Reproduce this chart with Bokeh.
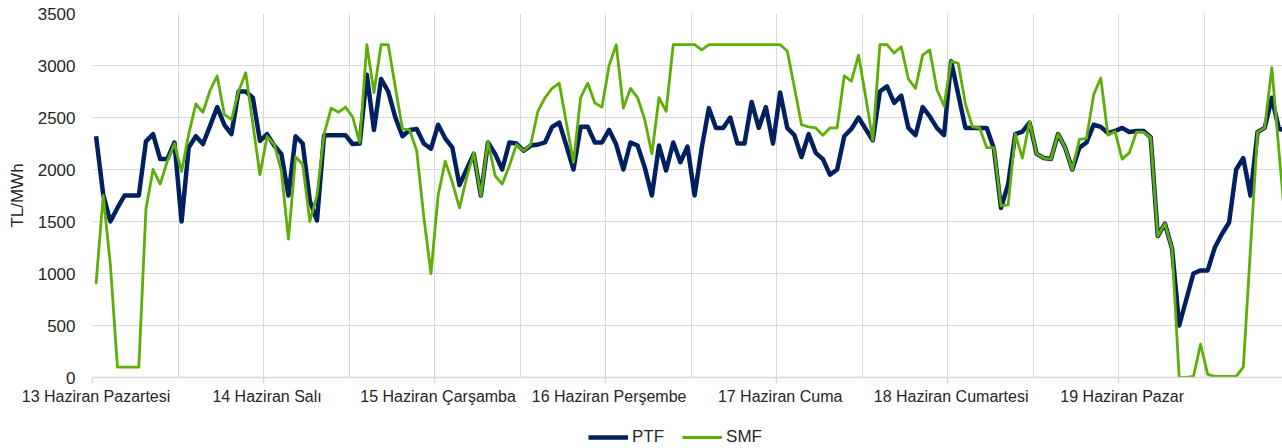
from bokeh.plotting import figure
from bokeh.layouts import column
from bokeh.models import Range1d, FixedTicker, Legend, LegendItem, ColumnDataSource
from bokeh.embed import file_html
from bokeh.resources import INLINE

days = ["13 Haziran Pazartesi", "14 Haziran Salı", "15 Haziran Çarşamba",
        "16 Haziran Perşembe", "17 Haziran Cuma", "18 Haziran Cumartesi", "19 Haziran Pazar"]

ptf = [
    2320, 1760, 1500, 1630, 1750, 1750, 1750, 2270, 2340, 2100, 2100, 2260, 1500, 2210, 2320, 2245, 2420, 2600, 2430, 2340, 2750, 2750, 2690, 2275,
    2340, 2230, 2150, 1750, 2320, 2250, 1700, 1510, 2330, 2330, 2330, 2330, 2245, 2250, 2910, 2380, 2870, 2750, 2500, 2320, 2380, 2390, 2250, 2200,
    2430, 2300, 2210, 1850, 2000, 2150, 1750, 2260, 2150, 2000, 2260, 2250, 2180, 2230, 2240, 2260, 2410, 2450, 2230, 2000, 2410, 2410, 2260, 2260,
    2380, 2240, 2000, 2260, 2230, 2020, 1750, 2230, 1990, 2260, 2070, 2220, 1750, 2210, 2590, 2400, 2400, 2500, 2250, 2250, 2650, 2400, 2600, 2250,
    2740, 2400, 2330, 2120, 2340, 2160, 2100, 1950, 2000, 2320, 2390, 2500, 2390, 2280, 2750, 2800, 2640, 2710, 2400, 2330, 2600, 2510, 2400, 2330,
    3040, 2720, 2400, 2400, 2400, 2400, 2200, 1630, 1860, 2340, 2365, 2450, 2150, 2110, 2100, 2340, 2210, 2000, 2210, 2260, 2430, 2410, 2350, 2370,
    2400, 2360, 2370, 2370, 2310, 1360, 1480, 1240, 500, 750, 1000, 1030, 1030, 1250, 1380, 1490, 2000, 2110, 1750, 2360, 2400, 2690, 2390, 2380,
]

smf = [
    900, 1750, 1090, 100, 100, 100, 100, 1620, 2000, 1860, 2080, 2250, 1980, 2340, 2630, 2550, 2760, 2900, 2530, 2480, 2750, 2930, 2440, 1950,
    2320, 2240, 1990, 1330, 2120, 2050, 1500, 1750, 2340, 2590, 2550, 2600, 2506, 2260, 3200, 2740, 3200, 3200, 2790, 2390, 2380, 2180, 1540, 1000,
    1750, 2080, 1875, 1630, 1920, 2160, 1750, 2270, 1940, 1860, 2035, 2240, 2180, 2240, 2560, 2690, 2780, 2830, 2450, 2070, 2690, 2830, 2640, 2600,
    3000, 3200, 2590, 2780, 2690, 2480, 2150, 2690, 2560, 3200, 3200, 3200, 3200, 3150, 3200, 3200, 3200, 3200, 3200, 3200, 3200, 3200, 3200, 3200,
    3200, 3140, 2790, 2430, 2410, 2400, 2330, 2400, 2400, 2900, 2850, 3100, 2700, 2280, 3200, 3200, 3120, 3180, 2870, 2780, 3100, 3150, 2770, 2610,
    3040, 3020, 2630, 2410, 2400, 2210, 2210, 1650, 1660, 2340, 2110, 2460, 2150, 2110, 2100, 2340, 2210, 2000, 2290, 2300, 2720, 2880, 2330, 2365,
    2100, 2160, 2360, 2360, 2310, 1360, 1480, 1240, 0, 0, 10, 320, 30, 10, 10, 10, 10, 100, 1230, 2360, 2400, 2980, 2180, 1400,
]

y_ticks = [0, 500, 1000, 1500, 2000, 2500, 3000, 3500]
series_names = ["PTF", "SMF"]
series_cols = ["ptf", "smf"]
series_colors = ["#002060", "#5eae08"]
series_widths = [4.5, 2.8]

n = len(ptf)
x = [i + 0.5 for i in range(n)]
src = ColumnDataSource(dict(x=x, ptf=ptf, smf=smf))

FONT = "Liberation Sans"
TXT = "#262626"

p = figure(width=1282, height=422, output_backend="svg", toolbar_location=None,
           x_range=Range1d(0, 167), y_range=Range1d(0, 3500),
           min_border_left=92, min_border_right=0, min_border_top=13, min_border_bottom=45)
p.outline_line_color = None
p.background_fill_color = "white"
p.border_fill_color = "white"

for col, c, w in zip(series_cols, series_colors, series_widths):
    p.line("x", col, source=src, line_width=w, line_color=c, line_join="round")

# x axis
day_centers = [24 * d + 0.5 for d in range(len(days))]
p.xaxis.ticker = FixedTicker(ticks=day_centers, minor_ticks=[24 * d for d in range(len(days) + 1)])
p.xaxis.major_label_overrides = {c: lab for c, lab in zip(day_centers, days)}
p.xaxis.major_tick_line_color = None
p.xaxis.major_tick_out = 0
p.xaxis.major_tick_in = 0
p.xaxis.minor_tick_line_color = "#d9d9d9"
p.xaxis.minor_tick_out = 6
p.xaxis.minor_tick_in = 0
p.xaxis.minor_tick_line_width = 1.5
p.xaxis.axis_line_color = "#d9d9d9"
p.xaxis.axis_line_width = 1.5
p.xaxis.major_label_text_font = FONT
p.xaxis.major_label_text_font_size = "16px"
p.xaxis.major_label_text_color = TXT
p.xaxis.major_label_standoff = 4

# y axis
p.yaxis.ticker = FixedTicker(ticks=y_ticks)
p.yaxis.axis_line_color = None
p.yaxis.major_tick_line_color = None
p.yaxis.minor_tick_line_color = None
p.yaxis.major_tick_out = 0
p.yaxis.major_tick_in = 0
p.yaxis.major_label_standoff = 17
p.yaxis.major_label_text_font = FONT
p.yaxis.major_label_text_font_size = "17px"
p.yaxis.major_label_text_color = TXT
p.yaxis.axis_label = "TL/MWh"
p.yaxis.axis_label_text_font = FONT
p.yaxis.axis_label_text_font_size = "17px"
p.yaxis.axis_label_text_font_style = "normal"
p.yaxis.axis_label_text_color = TXT
p.yaxis.axis_label_standoff = 8

# grids
p.xgrid.ticker = FixedTicker(ticks=list(range(0, 168, 12)))
p.xgrid.grid_line_color = "#d9d9d9"
p.xgrid.grid_line_width = 1
p.ygrid.ticker = FixedTicker(ticks=y_ticks)
p.ygrid.grid_line_color = "#d9d9d9"
p.ygrid.grid_line_width = 1

# legend strip below the chart (its ranges keep the series out of view; only the legend shows)
lf = figure(width=1282, height=26, output_backend="svg", toolbar_location=None,
            x_range=Range1d(0, 167), y_range=Range1d(-20, -10), x_axis_type=None, y_axis_type=None,
            min_border_left=0, min_border_right=0, min_border_top=0, min_border_bottom=0)
lf.outline_line_color = None
lf.xgrid.visible = False
lf.ygrid.visible = False
items = []
for name, col, c, w in zip(series_names, series_cols, series_colors, series_widths):
    r = lf.line("x", col, source=src, line_color=c, line_width=w)
    items.append(LegendItem(label=name, renderers=[r]))

legend = Legend(items=items, orientation="horizontal", location=(496, 1))
legend.label_text_font = FONT
legend.label_text_font_size = "17px"
legend.label_text_color = TXT
legend.glyph_width = 40
legend.glyph_height = 18
legend.label_standoff = 4
legend.spacing = 18
legend.padding = 0
legend.margin = 0
legend.border_line_color = None
legend.background_fill_alpha = 0
lf.add_layout(legend, "center")

layout = column(p, lf, spacing=0)
open("out.html", "w").write(file_html(layout, INLINE))
